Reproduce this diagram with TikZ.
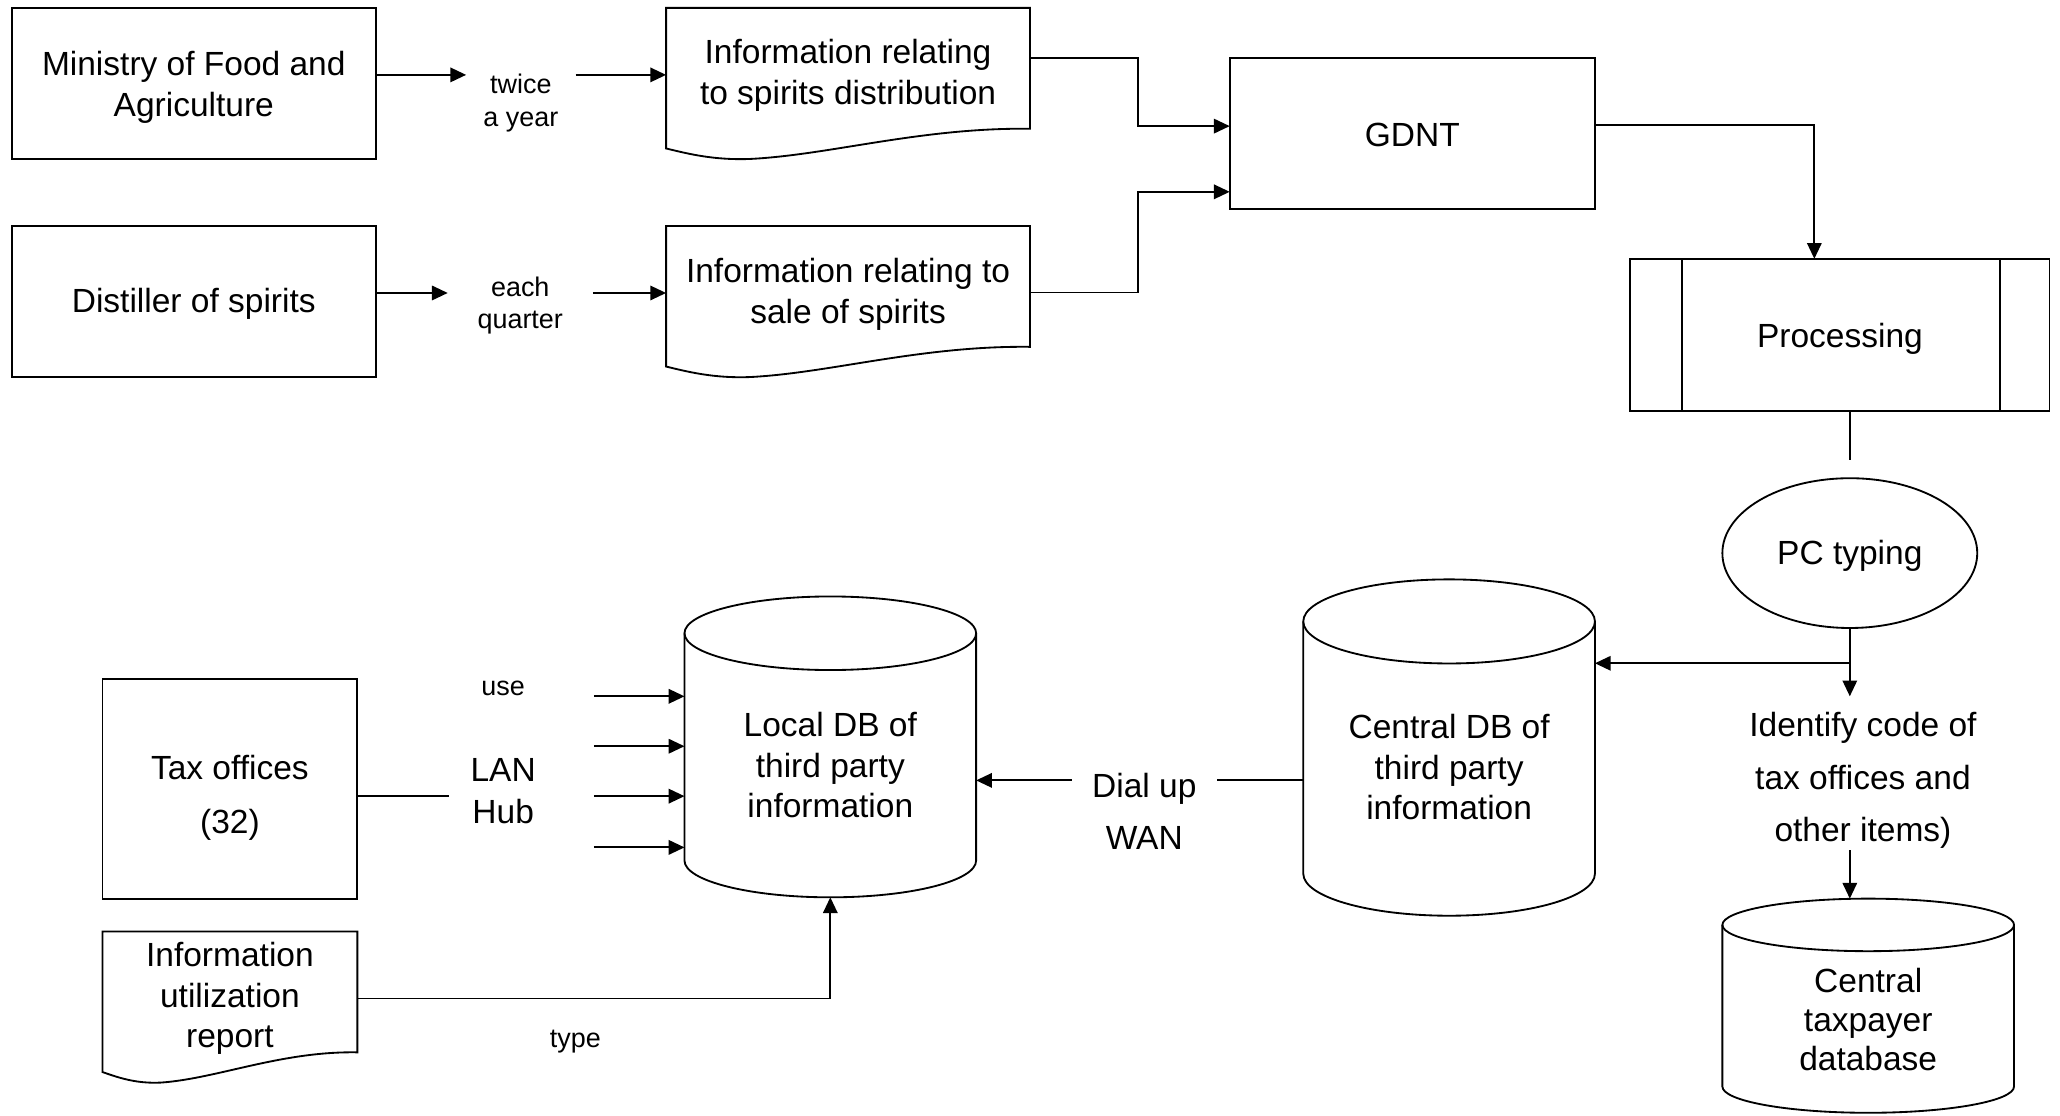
\documentclass[tikz,border=0pt]{standalone}
\usepackage{fontspec}
\setmainfont{Liberation Sans}
\usetikzlibrary{arrows.meta,calc,shapes.geometric}

% Cylinder outline drawn around an (invisible) rectangular node:
% #1 node name, #2 half width, #3 vertical radius of the caps
\newcommand\drawdb[3]{%
  \draw[shapeline] ([yshift=-#3]#1.north west) -- ([yshift=#3]#1.south west)
    arc[start angle=180,end angle=360,x radius=#2,y radius=#3]
    -- ([yshift=-#3]#1.north east)
    arc[start angle=0,end angle=180,x radius=#2,y radius=#3] -- cycle;
  \draw[shapeline] ([yshift=-#3]#1.north west)
    arc[start angle=180,end angle=360,x radius=#2,y radius=#3];
}
% Document outline with a wavy lower edge: #1 node name, #2 width, #3 height of the straight part
\newcommand\docoutline[3]{%
  \begin{scope}[shift={(#1.south west)}]
    \draw[shapeline] (0,15) -- (0,-#3) -- (#2,-#3) -- (#2,0)
      .. controls (0.7*#2,-1) and (0.45*#2,20) .. (0.23*#2,23)
      .. controls (0.13*#2,24) and (0.06*#2,19) .. (0,15) -- cycle;
  \end{scope}}

\tikzset{
  shapeline/.style={draw=black, line width=1.4pt, line join=miter},
  txt/.style={align=center, font=\fontsize{25.5}{31}\selectfont, inner sep=0pt},
  lbl/.style={align=center, font=\fontsize{20.5}{25}\selectfont, inner sep=0pt},
  rectbox/.style={shapeline, rectangle, inner sep=0pt, outer sep=0pt},
  docnode/.style={rectangle, inner sep=0pt, outer sep=0pt},
  dbnode/.style={rectangle, inner sep=0pt, outer sep=0pt},
  inside/.style 2 args={label={[txt,yshift=-#1]center:{#2}}},
  arr/.style={draw=black, line width=1.4pt, -{Triangle[length=12pt,width=11pt]}},
  plain/.style={draw=black, line width=1.4pt},
}

\begin{document}
\begin{tikzpicture}[x=1pt,y=-1pt]
\fill[white] (0,0) rectangle (1568,849);
\useasboundingbox (0,0) rectangle (1568,849);

% ---- sources and incoming documents
\node[rectbox, minimum width=277, minimum height=115,
  inside={3pt}{Ministry of Food and\\Agriculture}] (ministry) at (147.5,63.5) {};
\node[rectbox, minimum width=277, minimum height=115,
  inside={2pt}{Distiller of spirits}] (distiller) at (147.5,229.5) {};

\node[lbl, minimum width=83] (twice) at (396.5,78.5) {twice\\a year};
\node[lbl, minimum width=110] (each) at (396,232.5) {each\\quarter};

\node[docnode, minimum width=277, minimum height=92,
  inside={5.5pt}{Information relating\\to spirits distribution}] (doc1) at (645.5,52) {};
\docoutline{doc1}{277}{92}
\node[docnode, minimum width=277, minimum height=92,
  inside={6pt}{Information relating to\\sale of spirits}] (doc2) at (645.5,218) {};
\docoutline{doc2}{277}{92}

% ---- central processing chain
\node[rectbox, minimum width=278, minimum height=115,
  inside={1pt}{GDNT}] (gdnt) at (1075,101.5) {};
\node[rectbox, minimum width=319, minimum height=116,
  inside={3pt}{Processing}] (proc) at (1400.5,255) {};
\draw[plain] ([xshift=39pt]proc.north west) -- ([xshift=39pt]proc.south west);
\draw[plain] ([xshift=-38pt]proc.north east) -- ([xshift=-38pt]proc.south east);

\node[shapeline, ellipse, inner sep=0pt, minimum width=194, minimum height=114,
  inside={2pt}{PC typing}] (pc) at (1408,421) {};

\node[docnode, minimum width=180, minimum height=117,
  inside={5.5pt}{Identify code of\\[9pt]tax offices and\\[9pt]other items)}] (identify) at (1418,588.5) {};

% ---- databases
\node[dbnode, minimum width=222, minimum height=256,
  inside={15pt}{Central DB of\\third party\\information}] (central) at (1103,569) {};
\drawdb{central}{111pt}{32pt}

\node[dbnode, minimum width=222, minimum height=229,
  inside={14pt}{Local DB of\\third party\\information}] (local) at (632,568.5) {};
\drawdb{local}{111pt}{28pt}

\node[dbnode, minimum width=222, minimum height=163,
  inside={10.5pt}{Central\\[-1pt]taxpayer\\[-1pt]database}] (taxpayer) at (1422,765.5) {};
\drawdb{taxpayer}{111pt}{20pt}

% ---- tax offices side
\node[rectbox, minimum width=194, minimum height=167,
  inside={7pt}{Tax offices\\[10pt](32)}] (tax) at (175,600.5) {};
\node[docnode, minimum width=194, minimum height=92,
  inside={5pt}{Information\\utilization\\report}] (report) at (175,755) {};
\docoutline{report}{194}{92}

\node[txt, minimum width=82] (hub) at (383,602) {LAN\\[1pt]Hub};
\node[lbl] (use) at (383,524) {use};
\node[lbl] (type) at (438,793) {type};
\node[txt, minimum width=110] (dial) at (871,617.5) {Dial up\\[8pt]WAN};

\coordinate (h1) at (452,530);
\coordinate (h2) at (452,568);
\coordinate (h3) at (452,606);
\coordinate (h4) at (452,645);

% ---- connectors
\draw[arr] ([yshift=6.5pt]ministry.east) coordinate (m) -- (m -| twice.west);
\draw[arr] (twice.east |- m) -- (doc1.west |- m);
\draw[arr] ([yshift=6.5pt]distiller.east) coordinate (d) -- (d -| each.west);
\draw[arr] (each.east |- d) -- (doc2.west |- d);

\draw[arr] ([yshift=8pt]doc1.east) -- ++(82,0) |- ([yshift=5.5pt]gdnt.west);
\draw[arr] ([yshift=-4.6pt]doc2.east) -- ++(82,0) |- ([yshift=-44.5pt]gdnt.west);
\draw[arr] ([yshift=6.5pt]gdnt.east) -| ([xshift=-19.5pt]proc.north);
\draw[plain] (proc.south -| pc.north) -- ([yshift=13pt]pc.north);

\draw[arr] (pc.south) -- (pc.south |- identify.north);
\coordinate (branch) at ($(pc.south)!0.51!(pc.south |- identify.north)$);
\draw[arr] (branch) -- (branch -| central.east);
\draw[arr] (pc.south |- identify.south) -- (pc.south |- taxpayer.north);

\draw[plain] ([yshift=-25pt]central.west) coordinate (cw) -- (cw -| dial.east);
\draw[arr] (dial.west |- cw) -- (cw -| local.east);

\draw[plain] ([yshift=-5.5pt]tax.east) coordinate (tw) -- (tw -| hub.west);
\foreach \c in {h1,h2,h3,h4} \draw[arr] (\c) -- (\c -| local.west);

\draw[arr] ([yshift=-5pt]report.east) -| (local.south);
\end{tikzpicture}
\end{document}
